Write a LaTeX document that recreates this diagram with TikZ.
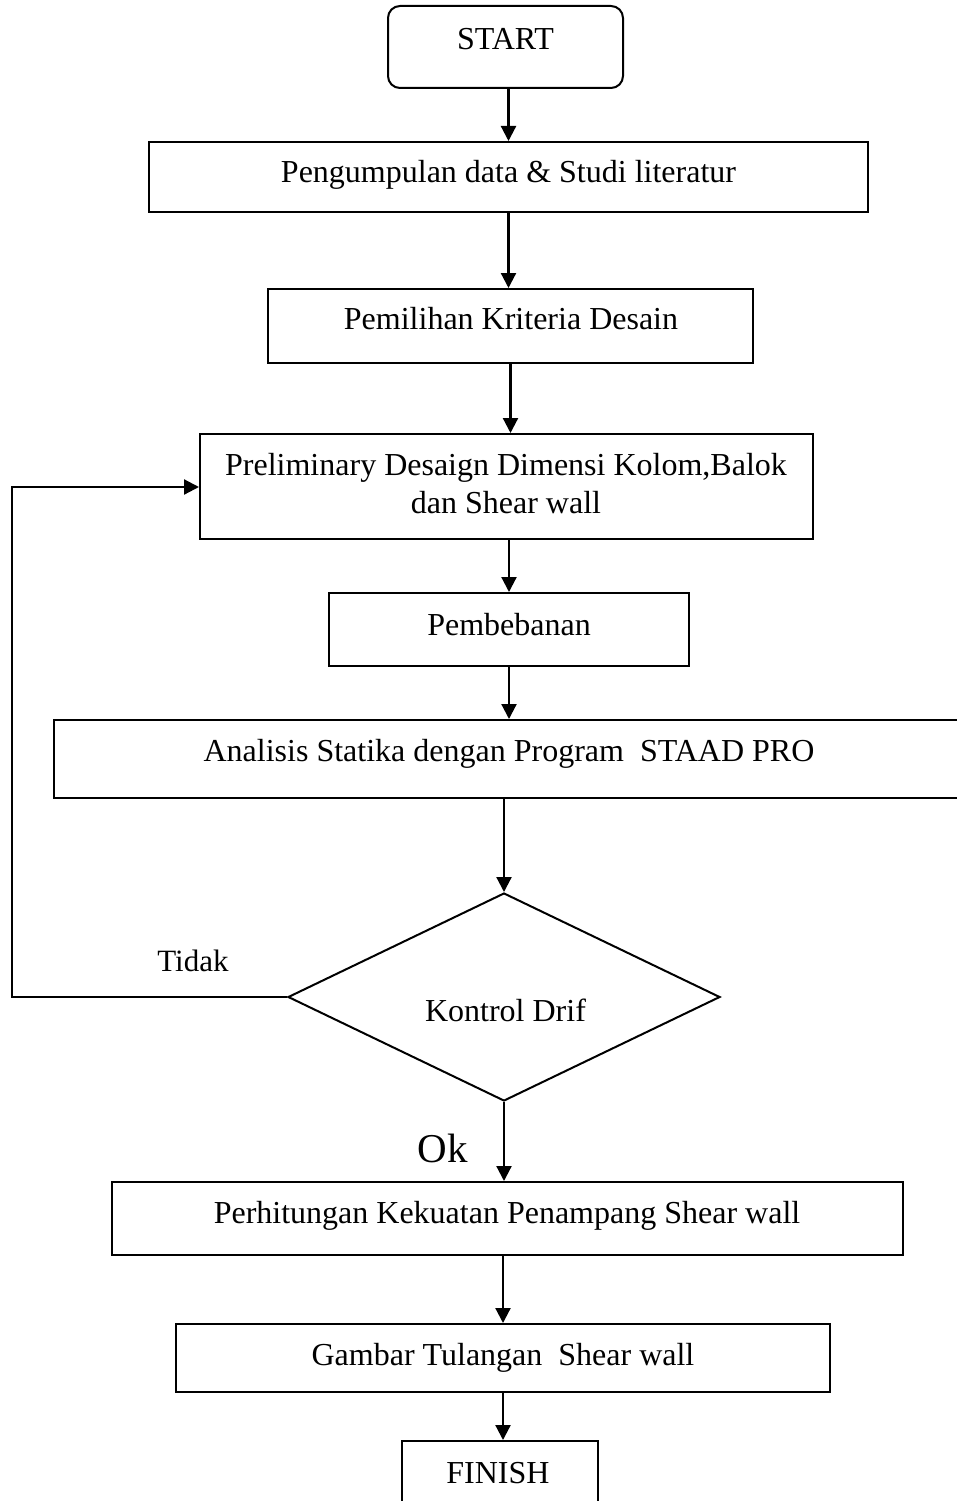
\documentclass[tikz,border=0pt]{standalone}
\usepackage{fontspec}
\setmainfont{Liberation Serif}
\usetikzlibrary{arrows.meta,shapes.geometric}
\begin{document}
\begin{tikzpicture}[x=1pt,y=-1pt,
  box/.style={draw,line width=2pt,rectangle,inner sep=0pt},
  lbl/.style={anchor=base,inner sep=0pt,font=\fontsize{32}{37}\selectfont},
  arr/.style={line width=2.2pt,-{Triangle[length=15pt,width=15pt]}},
  conn/.style={line width=2.2pt}]
\clip (0,0) rectangle (957,1501);
\fill[white] (0,0) rectangle (957,1501);
% boxes
\node[box,rounded corners=12pt,minimum width=235pt,minimum height=82pt] (b1) at (505.5,47) {};
\node[box,minimum width=719pt,minimum height=70pt] (b2) at (508.5,177) {};
\node[box,minimum width=485pt,minimum height=74pt] (b3) at (510.5,326) {};
\node[box,minimum width=613pt,minimum height=105pt] (b4) at (506.5,486.5) {};
\node[box,minimum width=360pt,minimum height=73pt] (b5) at (509,629.5) {};
\node[box,minimum width=926pt,minimum height=78pt] (b6) at (517,759) {};
\node[draw,line width=2pt,diamond,inner sep=0pt,minimum width=432pt,minimum height=208pt] (dia) at (504,997) {};
\node[box,minimum width=791pt,minimum height=73pt] (b7) at (507.5,1218.5) {};
\node[box,minimum width=654pt,minimum height=68pt] (b8) at (503,1358) {};
\node[box,minimum width=196pt,minimum height=80pt] (b9) at (500,1481) {};
% texts
\node[lbl] (t1) at (505.5,50) {START};
\node[lbl] (t2) at (508.5,182) {Pengumpulan data \& Studi literatur};
\node[lbl] (t3) at (511,329) {Pemilihan Kriteria Desain};
\node[lbl] (t4a) at (506,475) {Preliminary Desaign Dimensi Kolom,Balok};
\node[lbl] (t4b) at (506,513) {dan Shear wall};
\node[lbl] (t5) at (509,635) {Pembebanan};
\node[lbl] (t6) at (509,761) {Analisis Statika dengan Program\hspace{0.5em}STAAD PRO};
\node[lbl] (t7) at (505.5,1021) {Kontrol Drif};
\node[lbl,font=\fontsize{31}{36}\selectfont] (tidak) at (193,971) {Tidak};
\node[lbl,font=\fontsize{41}{46}\selectfont] (ok) at (443,1162) {Ok};
\node[lbl] (t8) at (507,1223) {Perhitungan Kekuatan Penampang Shear wall};
\node[lbl] (t9) at (503,1365) {Gambar Tulangan\hspace{0.5em}Shear wall};
\node[lbl] (t10) at (498,1483) {FINISH};
% connectors
\draw[arr] (b1.south -| b2.north) -- (b2.north);
\draw[arr] (b2.south) -- (b2.south |- b3.north);
\draw[arr] (b3.south) -- (b3.south |- b4.north);
\draw[arr] (b5.north |- b4.south) -- (b5.north);
\draw[arr] (b5.south) -- (b5.south |- b6.north);
\draw[arr] (dia.north |- b6.south) -- (dia.north);
\draw[arr] (dia.south) -- (dia.south |- b7.north);
\draw[arr] (b8.north |- b7.south) -- (b8.north);
\draw[arr] (b8.south) -- (b8.south |- b9.north);
\coordinate (lb) at (12,997);
\coordinate (lt) at (12,487);
\draw[arr] (dia.west) -- (lb) -- (lt) -- (lt -| b4.west);
\end{tikzpicture}
\end{document}
